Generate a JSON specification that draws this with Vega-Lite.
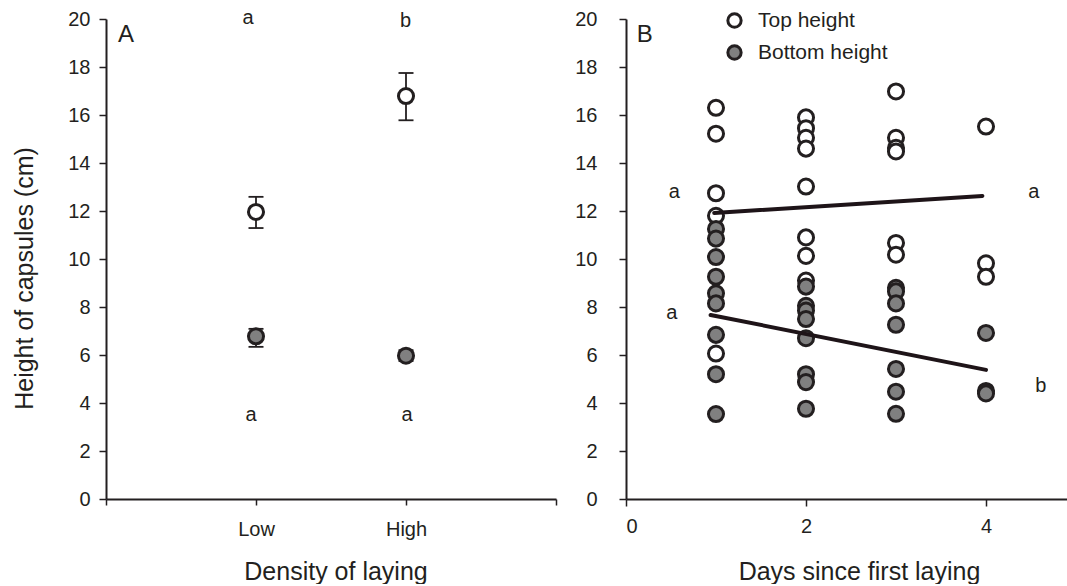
{
  "$schema": "https://vega.github.io/schema/vega-lite/v6.json",
  "padding": {"left": 12, "top": 8, "right": 0, "bottom": 0},
  "config": {
    "font": "Liberation Sans",
    "view": {"stroke": null},
    "axis": {
      "grid": false,
      "domainColor": "#231f20",
      "domainWidth": 2,
      "tickColor": "#231f20",
      "tickWidth": 1.5,
      "tickSize": 7,
      "labelFont": "Liberation Sans",
      "labelFontSize": 20,
      "labelColor": "#231f20",
      "titleFont": "Liberation Sans",
      "titleFontSize": 25,
      "titleFontWeight": "normal",
      "titleColor": "#231f20"
    },
    "text": {"font": "Liberation Sans", "color": "#231f20"}
  },
  "bounds": "flush",
  "spacing": 70,
  "resolve": {"scale": {"x": "independent", "y": "independent", "fill": "independent"}},
  "datasets": {
    "panelA": [
      {"density": 1, "h": 11.96, "lo": 11.29, "hi": 12.59, "series": "Top height"},
      {"density": 2, "h": 16.79, "lo": 15.78, "hi": 17.75, "series": "Top height"},
      {"density": 1, "h": 6.78, "lo": 6.34, "hi": 7.09, "series": "Bottom height"},
      {"density": 2, "h": 5.97, "lo": 5.75, "hi": 6.2, "series": "Bottom height"}
    ],
    "lettersA": [
      {"x": 0.947, "y": 19.79, "t": "a"},
      {"x": 1.997, "y": 19.65, "t": "b"},
      {"x": 0.967, "y": 3.27, "t": "a"},
      {"x": 2.007, "y": 3.27, "t": "a"}
    ],
    "panelB": [
      {"day": 1, "h": 16.3, "series": "Top height"},
      {"day": 1, "h": 15.22, "series": "Top height"},
      {"day": 1, "h": 12.74, "series": "Top height"},
      {"day": 1, "h": 11.8, "series": "Top height"},
      {"day": 1, "h": 6.06, "series": "Top height"},
      {"day": 2, "h": 15.9, "series": "Top height"},
      {"day": 2, "h": 15.45, "series": "Top height"},
      {"day": 2, "h": 15.05, "series": "Top height"},
      {"day": 2, "h": 14.6, "series": "Top height"},
      {"day": 2, "h": 13.02, "series": "Top height"},
      {"day": 2, "h": 10.9, "series": "Top height"},
      {"day": 2, "h": 10.13, "series": "Top height"},
      {"day": 2, "h": 9.1, "series": "Top height"},
      {"day": 3, "h": 16.98, "series": "Top height"},
      {"day": 3, "h": 15.05, "series": "Top height"},
      {"day": 3, "h": 14.63, "series": "Top height"},
      {"day": 3, "h": 14.48, "series": "Top height"},
      {"day": 3, "h": 10.67, "series": "Top height"},
      {"day": 3, "h": 10.18, "series": "Top height"},
      {"day": 4, "h": 15.52, "series": "Top height"},
      {"day": 4, "h": 9.82, "series": "Top height"},
      {"day": 4, "h": 9.26, "series": "Top height"},
      {"day": 1, "h": 11.25, "series": "Bottom height"},
      {"day": 1, "h": 10.85, "series": "Bottom height"},
      {"day": 1, "h": 10.08, "series": "Bottom height"},
      {"day": 1, "h": 9.26, "series": "Bottom height"},
      {"day": 1, "h": 8.57, "series": "Bottom height"},
      {"day": 1, "h": 8.15, "series": "Bottom height"},
      {"day": 1, "h": 6.84, "series": "Bottom height"},
      {"day": 1, "h": 5.2, "series": "Bottom height"},
      {"day": 1, "h": 3.54, "series": "Bottom height"},
      {"day": 2, "h": 8.85, "series": "Bottom height"},
      {"day": 2, "h": 8.05, "series": "Bottom height"},
      {"day": 2, "h": 7.85, "series": "Bottom height"},
      {"day": 2, "h": 7.5, "series": "Bottom height"},
      {"day": 2, "h": 6.7, "series": "Bottom height"},
      {"day": 2, "h": 5.2, "series": "Bottom height"},
      {"day": 2, "h": 4.87, "series": "Bottom height"},
      {"day": 2, "h": 3.76, "series": "Bottom height"},
      {"day": 3, "h": 8.8, "series": "Bottom height"},
      {"day": 3, "h": 8.65, "series": "Bottom height"},
      {"day": 3, "h": 8.15, "series": "Bottom height"},
      {"day": 3, "h": 7.26, "series": "Bottom height"},
      {"day": 3, "h": 5.42, "series": "Bottom height"},
      {"day": 3, "h": 4.47, "series": "Bottom height"},
      {"day": 3, "h": 3.55, "series": "Bottom height"},
      {"day": 4, "h": 6.92, "series": "Bottom height"},
      {"day": 4, "h": 4.5, "series": "Bottom height"},
      {"day": 4, "h": 4.4, "series": "Bottom height"}
    ],
    "linesB": [
      {"day": 0.98, "h": 11.92, "g": "top"},
      {"day": 3.96, "h": 12.63, "g": "top"},
      {"day": 0.94, "h": 7.67, "g": "bottom"},
      {"day": 4.0, "h": 5.38, "g": "bottom"}
    ],
    "lettersB": [
      {"x": 0.537, "y": 12.54, "t": "a"},
      {"x": 4.53, "y": 12.54, "t": "a"},
      {"x": 0.51, "y": 7.48, "t": "a"},
      {"x": 4.61, "y": 4.46, "t": "b"}
    ],
    "panelLabels": [
      {"x": 0.08, "y": 19.04, "t": "A"}
    ],
    "panelLabelsB": [
      {"x": 0.12, "y": 19.04, "t": "B"}
    ]
  },
  "hconcat": [
    {
      "width": 450,
      "height": 480,
      "layer": [
        {
          "data": {"name": "panelA"},
          "mark": {"type": "rule", "stroke": "#231f20", "strokeWidth": 1.8},
          "encoding": {
            "x": {
              "field": "density", "type": "quantitative",
              "scale": {"domain": [0, 3], "nice": false},
              "axis": {
                "values": [0, 1, 2, 3],
                "labelExpr": "datum.value == 1 ? 'Low' : datum.value == 2 ? 'High' : ''",
                "title": "Density of laying",
                "tickSize": 6,
                "labelPadding": 14,
                "titlePadding": 20,
                "titleX": 229.5
              }
            },
            "y": {
              "field": "lo", "type": "quantitative",
              "scale": {"domain": [0, 20], "nice": false},
              "axis": {
                "values": [0, 2, 4, 6, 8, 10, 12, 14, 16, 18, 20],
                "title": "Height of capsules (cm)",
                "labelPadding": 9,
                "titlePadding": 30,
                "titleY": 259
              }
            },
            "y2": {"field": "hi"}
          }
        },
        {
          "data": {"name": "panelA"},
          "mark": {"type": "tick", "orient": "horizontal", "size": 15, "thickness": 1.8, "color": "#231f20", "opacity": 1},
          "encoding": {
            "x": {"field": "density", "type": "quantitative"},
            "y": {"field": "hi", "type": "quantitative"}
          }
        },
        {
          "data": {"name": "panelA"},
          "mark": {"type": "tick", "orient": "horizontal", "size": 15, "thickness": 1.8, "color": "#231f20", "opacity": 1},
          "encoding": {
            "x": {"field": "density", "type": "quantitative"},
            "y": {"field": "lo", "type": "quantitative"}
          }
        },
        {
          "data": {"name": "panelA"},
          "mark": {"type": "point", "shape": "circle", "filled": true, "size": 227, "stroke": "#231f20", "strokeWidth": 3, "opacity": 1},
          "encoding": {
            "x": {"field": "density", "type": "quantitative"},
            "y": {"field": "h", "type": "quantitative"},
            "fill": {
              "field": "series", "type": "nominal",
              "scale": {"domain": ["Top height", "Bottom height"], "range": ["#ffffff", "#808080"]},
              "legend": null
            }
          }
        },
        {
          "data": {"name": "lettersA"},
          "mark": {"type": "text", "fontSize": 20, "align": "center", "baseline": "alphabetic"},
          "encoding": {
            "x": {"field": "x", "type": "quantitative"},
            "y": {"field": "y", "type": "quantitative"},
            "text": {"field": "t"}
          }
        },
        {
          "data": {"name": "panelLabels"},
          "mark": {"type": "text", "fontSize": 24, "align": "left", "baseline": "alphabetic"},
          "encoding": {
            "x": {"field": "x", "type": "quantitative"},
            "y": {"field": "y", "type": "quantitative"},
            "text": {"field": "t"}
          }
        }
      ]
    },
    {
      "width": 441,
      "height": 480,
      "layer": [
        {
          "data": {"name": "panelB"},
          "mark": {"type": "point", "shape": "circle", "filled": true, "size": 227, "stroke": "#231f20", "strokeWidth": 3, "opacity": 1},
          "encoding": {
            "x": {
              "field": "day", "type": "quantitative",
              "scale": {"domain": [0, 4.9], "nice": false},
              "axis": {
                "values": [0, 2, 4],
                "format": "d",
                "title": "Days since first laying",
                "labelPadding": 10,
                "titlePadding": 23,
                "titleX": 233
              }
            },
            "y": {
              "field": "h", "type": "quantitative",
              "scale": {"domain": [0, 20], "nice": false},
              "axis": {
                "values": [0, 2, 4, 6, 8, 10, 12, 14, 16, 18, 20],
                "title": null,
                "labelPadding": 22
              }
            },
            "fill": {
              "field": "series", "type": "nominal",
              "scale": {"domain": ["Top height", "Bottom height"], "range": ["#ffffff", "#808080"]},
              "legend": {
                "title": null,
                "orient": "none",
                "legendX": 98,
                "legendY": -9,
                "padding": 0,
                "labelFontSize": 21,
                "labelColor": "#231f20",
                "labelFont": "Liberation Sans",
                "symbolType": "circle",
                "symbolSize": 177,
                "symbolStrokeColor": "#231f20",
                "symbolStrokeWidth": 3,
                "symbolOpacity": 1,
                "rowPadding": 5,
                "labelOffset": 13
              }
            }
          }
        },
        {
          "data": {"name": "linesB"},
          "mark": {"type": "line", "stroke": "#1e1418", "strokeWidth": 4, "strokeCap": "round"},
          "encoding": {
            "x": {"field": "day", "type": "quantitative"},
            "y": {"field": "h", "type": "quantitative"},
            "detail": {"field": "g"}
          }
        },
        {
          "data": {"name": "lettersB"},
          "mark": {"type": "text", "fontSize": 20, "align": "center", "baseline": "alphabetic"},
          "encoding": {
            "x": {"field": "x", "type": "quantitative"},
            "y": {"field": "y", "type": "quantitative"},
            "text": {"field": "t"}
          }
        },
        {
          "data": {"name": "panelLabelsB"},
          "mark": {"type": "text", "fontSize": 24, "align": "left", "baseline": "alphabetic"},
          "encoding": {
            "x": {"field": "x", "type": "quantitative"},
            "y": {"field": "y", "type": "quantitative"},
            "text": {"field": "t"}
          }
        }
      ]
    }
  ]
}
